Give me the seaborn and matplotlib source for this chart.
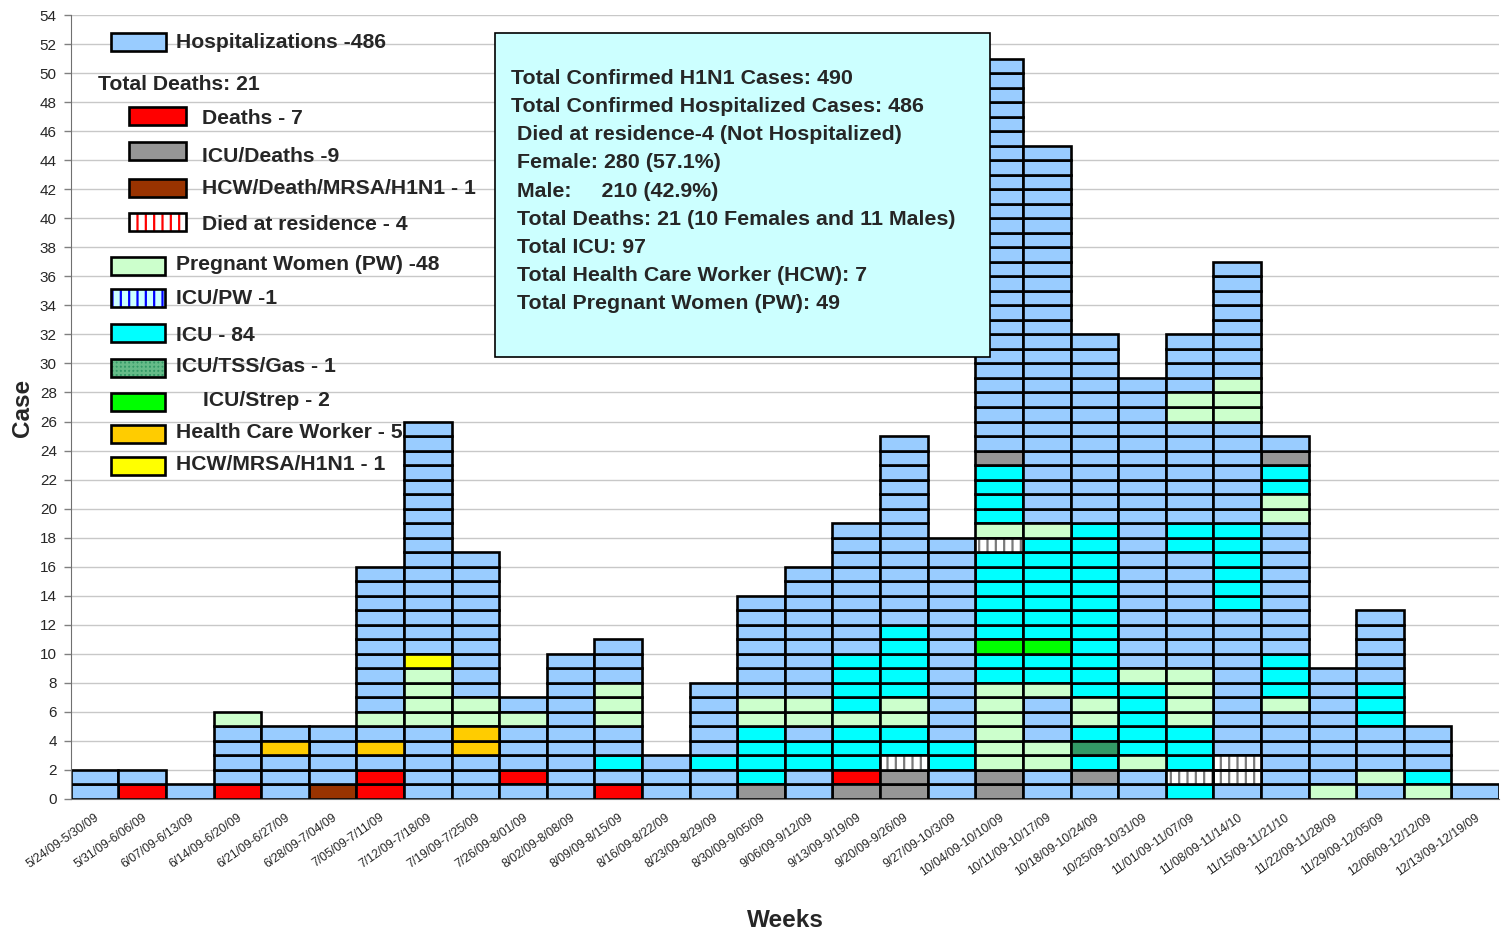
import numpy as np
import pandas as pd
import matplotlib
matplotlib.use('Agg')
import matplotlib.pyplot as plt
from matplotlib.patches import Rectangle
import seaborn as sns

# weekly cases, one letter per case, stacked bottom -> top
weeks = ['5/24/09-5/30/09', '5/31/09-6/06/09', '6/07/09-6/13/09', '6/14/09-6/20/09',
         '6/21/09-6/27/09', '6/28/09-7/04/09', '7/05/09-7/11/09', '7/12/09-7/18/09',
         '7/19/09-7/25/09', '7/26/09-8/01/09', '8/02/09-8/08/09', '8/09/09-8/15/09',
         '8/16/09-8/22/09', '8/23/09-8/29/09', '8/30/09-9/05/09', '9/06/09-9/12/09',
         '9/13/09-9/19/09', '9/20/09-9/26/09', '9/27/09-10/3/09', '10/04/09-10/10/09',
         '10/11/09-10/17/09', '10/18/09-10/24/09', '10/25/09-10/31/09', '11/01/09-11/07/09',
         '11/08/09-11/14/10', '11/15/09-11/21/10', '11/22/09-11/28/09', '11/29/09-12/05/09',
         '12/06/09-12/12/09', '12/13/09-12/19/09']

# H hosp, D death, G icu/death, B hcw/death/mrsa, R died at residence, P pregnant,
# Q icu/pw, C icu, T icu/tss/gas, S icu/strep, W hcw, Y hcw/mrsa
stacks = [
    'HH',
    'DH',
    'H',
    'DHHHHP',
    'HHHWH',
    'BHHHH',
    'DDHWHPHHHHHHHHHH',
    'HHHHHPPPPYHHHHHHHHHHHHHHHH',
    'HHHWWPPHHHHHHHHHH',
    'HDHHHPH',
    'HHHHHHHHHH',
    'DHCHHPPPHHH',
    'HHH',
    'HHCHHHHH',
    'GCCCCPPHHHHHHH',
    'HHCCHPPHHHHHHHHH',
    'GDCCCPCCCCHHHHHHHHH',
    'GGRCCPPCCCCCHHHHHHHHHHHHH',
    'HHCCHHHHHHHHHHHHHH',
    'GGPPPPPPCCSCCCCCCQPCCCCGHHHHHHHHHHHHHHHHHHHHHHHHHHH',
    'HHPPHHHPCCSCCCCCCCPHHHHHHHHHHHHHHHHHHHHHHHHHH',
    'HGCTCPPCCCCCCCCCCCCHHHHHHHHHHHHH',
    'HHPCCCCCPHHHHHHHHHHHHHHHHHHHH',
    'CRCCCPPPPHHHHHHHHCCHHHHHHHPPHHHH',
    'HRRHHHHHHHHHHCCCCCCHHHHHHHPPPHHHHHHHH',
    'HHHHHHPCCCHHHHHHHHHPPCCGH',
    'PHHHHHHHH',
    'HPHHHCCCHHHHH',
    'PCHHH',
    'H',
]

colors = {'H': '#99ccff', 'D': '#ff0000', 'G': '#969696', 'B': '#993300',
          'R': '#ffffff', 'P': '#ccffcc', 'Q': '#ffffff', 'C': '#00ffff',
          'T': '#339966', 'S': '#00ff00', 'W': '#ffcc00', 'Y': '#ffff00'}

legend_items = [('Hospitalizations -486', 'H'), ('Deaths - 7', 'D'), ('ICU/Deaths -9', 'G'),
                ('HCW/Death/MRSA/H1N1 - 1', 'B'), ('Died at residence - 4', 'R'),
                ('Pregnant Women (PW) -48', 'P'), ('ICU/PW -1', 'Q'), ('ICU - 84', 'C'),
                ('ICU/TSS/Gas - 1', 'T'), ('ICU/Strep - 2', 'S'),
                ('Health Care Worker - 5', 'W'), ('HCW/MRSA/H1N1 - 1', 'Y')]

info_lines = ['Total Confirmed H1N1 Cases: 490',
              'Total Confirmed Hospitalized Cases: 486',
              ' Died at residence-4 (Not Hospitalized)',
              ' Female: 280 (57.1%)',
              ' Male:     210 (42.9%)',
              ' Total Deaths: 21 (10 Females and 11 Males)',
              ' Total ICU: 97',
              ' Total Health Care Worker (HCW): 7',
              ' Total Pregnant Women (PW): 49']

rows = []
for i, s in enumerate(stacks):
    for lvl, c in enumerate(s):
        rows.append((i, lvl, c))
cells = pd.DataFrame(rows, columns=['week', 'level', 'code'])

sns.set_style('white')
plt.rcParams['font.family'] = ['Liberation Sans', 'DejaVu Sans']
plt.rcParams['hatch.linewidth'] = 1.6

W, H = 1509, 935
fig = plt.figure(figsize=(W / 100, H / 100), dpi=100)
ax = fig.add_axes([70.7 / W, (H - 799) / H, (1499 - 70.7) / W, (799 - 15) / H])

def fx(px):
    return px / W

def fy(py):
    return 1 - py / H

for code, grp in cells.groupby('code'):
    x = grp['week'] + 0.5
    if code in 'RQ':
        ax.bar(x, 1, bottom=grp['level'], width=1, color='white', edgecolor='#7a7a7a',
               hatch='||', linewidth=0, zorder=2)
        ax.bar(x, 1, bottom=grp['level'], width=1, color='none', edgecolor='black',
               linewidth=1.9, zorder=3)
    else:
        ax.bar(x, 1, bottom=grp['level'], width=1, color=colors[code], edgecolor='black',
               linewidth=1.9, zorder=2)

ax.set_xlim(0, 30)
ax.set_ylim(0, 54)
ax.set_yticks(np.arange(0, 55, 2))
ax.set_xticks(np.arange(30) + 0.5)
ax.set_xticklabels(weeks, rotation=35, ha='right', rotation_mode='anchor', fontsize=8.8)
ax.set_xticks(np.arange(31), minor=True)
ax.tick_params(axis='x', which='major', length=0, pad=9)
ax.tick_params(axis='x', which='minor', length=5, color='#808080', width=1, direction='out')
ax.tick_params(axis='y', length=5, color='#808080', width=1, direction='out', labelsize=11, pad=5, left=True)
ax.grid(axis='y', color='#c8c8c8', linewidth=1, zorder=0)
ax.set_axisbelow(True)
sns.despine(ax=ax, top=True, right=True)
ax.spines['left'].set_color('#707070')
ax.spines['bottom'].set_color('#707070')

ax.set_ylabel('Case', fontsize=17.5, fontweight='bold')
ax.set_xlabel('Weeks', fontsize=17.5, fontweight='bold')
ax.xaxis.set_label_coords((785 - 70.7) / (1499 - 70.7), -(918 - 799) / (799 - 15) + 0.012)
ax.yaxis.set_label_coords(-(70.7 - 34) / (1499 - 70.7), (799 - 408) / (799 - 15))

# legend drawn by hand like the original
patch_pos = [(111, 33, 55), (129, 107, 57), (129, 142, 57), (129, 179, 57), (129, 213, 57),
             (111, 257, 54), (111, 289, 54), (111, 324, 54), (111, 359, 54), (111, 393, 54),
             (111, 425, 54), (111, 457, 54)]
text_pos = [(176, 40), (202, 117), (202, 155), (202, 187), (202, 223), (176, 263), (176, 297),
            (176, 333), (176, 365), (203, 399), (176, 431), (176, 463)]
for (label, code), (px, py, pw), (tx, ty) in zip(legend_items, patch_pos, text_pos):
    ph = 18
    kw = dict(transform=fig.transFigure, clip_on=False, zorder=1)
    if code == 'R':
        ax.add_patch(Rectangle((fx(px), fy(py + ph)), pw / W, ph / H, facecolor='white',
                               edgecolor='#ff0000', hatch='||', linewidth=0, **kw))
        ax.add_patch(Rectangle((fx(px), fy(py + ph)), pw / W, ph / H, facecolor='none',
                               edgecolor='black', linewidth=1.9, **kw))
    elif code == 'Q':
        ax.add_patch(Rectangle((fx(px), fy(py + ph)), pw / W, ph / H, facecolor='#ccffff',
                               edgecolor='#0000ff', hatch='||', linewidth=0, **kw))
        ax.add_patch(Rectangle((fx(px), fy(py + ph)), pw / W, ph / H, facecolor='none',
                               edgecolor='black', linewidth=1.9, **kw))
    elif code == 'T':
        ax.add_patch(Rectangle((fx(px), fy(py + ph)), pw / W, ph / H, facecolor='#339966',
                               edgecolor='#66bb88', hatch='++++', linewidth=0, **kw))
        ax.add_patch(Rectangle((fx(px), fy(py + ph)), pw / W, ph / H, facecolor='none',
                               edgecolor='black', linewidth=1.9, **kw))
    else:
        ax.add_patch(Rectangle((fx(px), fy(py + ph)), pw / W, ph / H, facecolor=colors[code],
                               edgecolor='black', linewidth=1.9, **kw))
    ax.text(fx(tx), fy(ty + 7.5), label, fontsize=15.2, fontweight='bold', va='baseline',
            transform=fig.transFigure, zorder=1)
ax.text(fx(98), fy(82 + 7.5), 'Total Deaths: 21', fontsize=15.2, fontweight='bold',
        va='baseline', transform=fig.transFigure, zorder=1)

# summary box
ax.add_patch(Rectangle((fx(495), fy(357)), (990 - 495) / W, (357 - 33) / H,
                       facecolor='#ccffff', edgecolor='black', linewidth=1.2,
                       transform=fig.transFigure, clip_on=False, zorder=5))
for k, line in enumerate(info_lines):
    ax.text(fx(511), fy(76.7 + 28.1 * k + 7.5), line, fontsize=15.4, fontweight='bold',
            va='baseline', transform=fig.transFigure, zorder=6)

fig.savefig('out.png', dpi=100)
